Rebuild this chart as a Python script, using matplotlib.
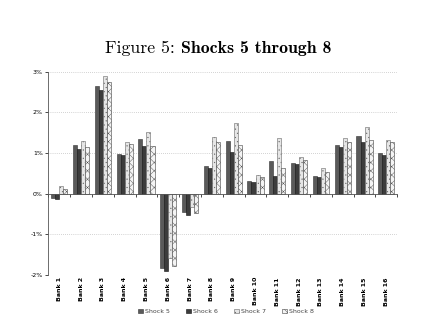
import numpy as np
import matplotlib.pyplot as plt
from matplotlib.transforms import blended_transform_factory

banks = [f"Bank {i}" for i in range(1, 17)]
shock5 = [-0.10, 1.19, 2.65, 0.97, 1.34, -1.84, -0.44, 0.68, 1.29, 0.30, 0.80, 0.75, 0.43, 1.19, 1.43, 0.99]
shock6 = [-0.12, 1.11, 2.56, 0.94, 1.17, -1.91, -0.52, 0.63, 1.02, 0.28, 0.43, 0.72, 0.40, 1.14, 1.27, 0.94]
shock7 = [0.18, 1.29, 2.89, 1.27, 1.51, -1.59, -0.32, 1.39, 1.74, 0.45, 1.37, 0.89, 0.62, 1.36, 1.64, 1.32]
shock8 = [0.12, 1.14, 2.74, 1.22, 1.17, -1.77, -0.48, 1.26, 1.19, 0.40, 0.62, 0.83, 0.53, 1.27, 1.32, 1.27]
series = ["Shock 5", "Shock 6", "Shock 7", "Shock 8"]
yticks = [-2, -1, 0, 1, 2, 3]

plt.rcParams['hatch.linewidth'] = 0.3

fig = plt.figure(figsize=(4.37, 3.3), dpi=100)
ax = fig.add_axes([0.1105, 0.1667, 0.7986, 0.616])

x = np.arange(len(banks))
w = 0.185
styles = [
    dict(color="#5a5a5a", edgecolor="#333333", hatch=None),
    dict(color="#3c3c3c", edgecolor="#111111", hatch=None),
    dict(color="#e6e6e6", edgecolor="#666666", hatch="...."),
    dict(color="#f4f4f4", edgecolor="#444444", hatch="xxxx"),
]
for i, (vals, name, st) in enumerate(zip([shock5, shock6, shock7, shock8], series, styles)):
    ax.bar(x + (i - 1.5) * w, vals, w, label=name, color=st["color"],
           edgecolor=st["edgecolor"], hatch=st["hatch"], linewidth=0.4)

ax.set_xlim(-0.5, len(banks) - 0.5)
ax.set_ylim(-2, 3)
ax.set_yticks(yticks)
ax.set_yticklabels([f"{v}%" for v in yticks], fontsize=4.5)
ax.yaxis.grid(True, linestyle=(0, (1, 2)), color="#aaaaaa", linewidth=0.5)
ax.set_axisbelow(True)
ax.tick_params(axis="y", length=2, width=0.5, pad=2)

for s in ["top", "right"]:
    ax.spines[s].set_visible(False)
ax.spines["left"].set_linewidth(0.6)
ax.spines["left"].set_color("#555555")
ax.spines["bottom"].set_position(("data", 0))
ax.spines["bottom"].set_linewidth(0.6)
ax.spines["bottom"].set_color("#555555")
ax.set_xticks(np.arange(len(banks) + 1) - 0.5)
ax.set_xticklabels([])
ax.tick_params(axis="x", length=2, width=0.5, direction="out")

trans = blended_transform_factory(ax.transData, ax.transAxes)
for xi, b in zip(x, banks):
    ax.text(xi, -0.01, b, rotation=90, ha="center", va="top", fontsize=4.5,
            fontweight="bold", transform=trans)

leg = ax.legend(loc="center", bbox_to_anchor=(0.51, -0.18), ncol=4, frameon=False,
                fontsize=4.5, handlelength=0.7, handleheight=0.7, columnspacing=2.6,
                handletextpad=0.4)
for t in leg.get_texts():
    t.set_color("#444444")

# title in two pieces: regular + bold, centred together
t1 = fig.text(0, 0.84, "Figure 5: ", fontsize=12.8, family="cmr10", va="baseline")
t2 = fig.text(0, 0.84, "Shocks 5 through 8", fontsize=12.8, family="cmb10", va="baseline")
fig.canvas.draw()
r = fig.canvas.get_renderer()
w1 = t1.get_window_extent(r).width / fig.bbox.width
w2 = t2.get_window_extent(r).width / fig.bbox.width
x0 = 0.5 - (w1 + w2) / 2
t1.set_x(x0)
t2.set_x(x0 + w1)

fig.savefig("out.png", dpi=100)
